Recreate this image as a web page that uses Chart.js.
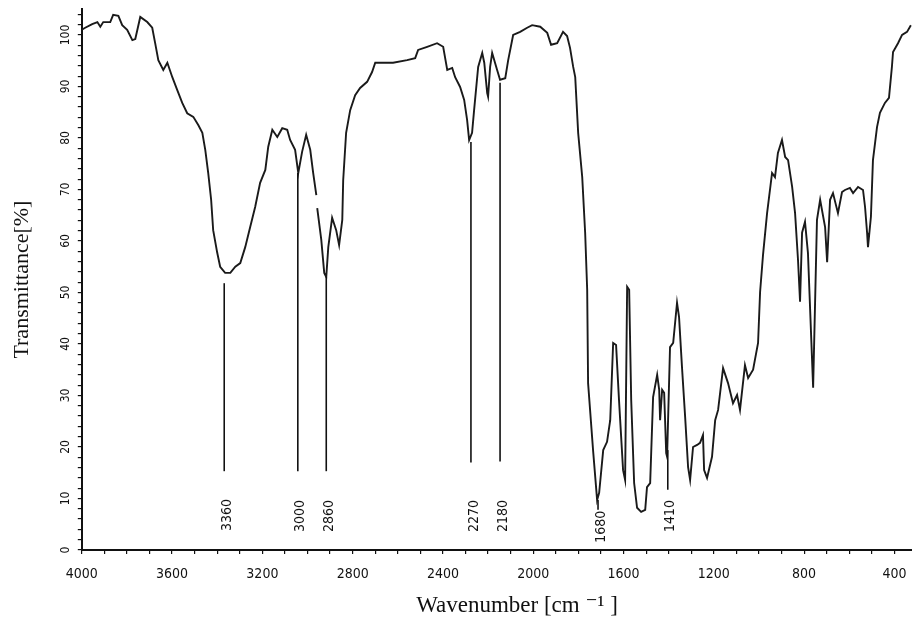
<!DOCTYPE html>
<html>
<head>
<meta charset="utf-8">
<script src="https://cdn.jsdelivr.net/npm/chart.js@4.4.1/dist/chart.umd.min.js"></script>
<style>
  html, body { margin: 0; padding: 0; background: #ffffff; }
  #wrap { width: 912px; height: 620px; position: relative; }
</style>
</head>
<body>
<div id="wrap"><canvas id="c"></canvas></div>
<script>
// ---- data ----
const wavenumber = [4000,3985,3954,3931,3918,3905,3874,3861,3838,3821,
  3799,3776,3763,3741,3710,3688,3675,3661,3639,3621,
  3599,3577,3555,3533,3506,3484,3466,3453,3440,3427,
  3418,3400,3387,3365,3342,3320,3298,3276,3254,3232,
  3210,3187,3174,3156,3134,3112,3090,3077,3055,3041,
  3024,3006,2988,2975,2961,2959,2957,2939,2926,2917,
  2908,2891,2873,2860,2846,2842,2829,2811,2789,2767,
  2736,2714,2700,2669,2621,2559,2523,2510,2470,2426,
  2399,2381,2359,2346,2324,2306,2293,2284,2271,2262,
  2244,2226,2217,2204,2200,2191,2182,2160,2147,2124,
  2111,2089,2058,2027,2005,1969,1938,1921,1894,1868,
  1850,1837,1823,1814,1801,1783,1770,1761,1757,1735,
  1717,1708,1690,1673,1659,1646,1633,1620,1602,1593,
  1584,1575,1566,1553,1540,1522,1504,1496,1482,1469,
  1451,1442,1438,1429,1420,1411,1407,1394,1380,1363,
  1354,1341,1327,1314,1305,1292,1274,1261,1248,1243,
  1230,1208,1194,1181,1159,1137,1115,1097,1084,1062,
  1048,1026,1004,995,982,964,942,929,916,898,
  884,871,853,840,827,818,809,796,783,760,
  743,729,707,698,685,672,650,632,619,597,
  583,561,539,530,521,517,504,495,477,464,
  442,424,411,406,384,366,344,327];

const transmittance = [101.0,101.4,102.1,102.5,101.6,102.5,102.5,103.9,103.7,101.9,
  101.0,99.0,99.2,103.5,102.5,101.4,98.4,95.1,93.2,94.6,
  91.8,89.3,86.8,84.8,84.1,82.5,81.0,77.7,73.2,68.0,
  62.1,57.7,55.0,53.8,53.8,55.0,55.7,58.8,62.7,66.6,
  71.3,73.8,78.3,81.6,80.2,81.9,81.6,79.6,77.7,73.2,
  77.3,80.6,77.7,73.2,68.9,null,66.4,60.2,53.8,53.0,
  58.8,64.5,62.1,59.2,64.1,71.8,81.0,85.4,88.3,89.7,
  90.9,92.8,94.6,94.6,94.6,95.1,95.5,97.1,97.7,98.4,
  97.7,93.2,93.6,91.8,89.9,87.4,83.5,79.6,81.0,85.4,
  93.8,96.5,94.6,88.7,88.0,93.8,96.5,93.2,91.3,91.6,
  95.1,100.0,100.6,101.4,101.9,101.6,100.4,98.1,98.4,100.6,
  99.8,97.5,93.8,91.8,81.0,72.4,61.6,50.5,32.4,19.4,
  9.7,11.1,19.4,21.0,25.2,40.2,39.8,29.1,15.5,13.6,
  51.1,50.5,29.1,13.0,8.2,7.4,7.8,12.2,13.0,29.7,
  34.0,31.1,25.2,31.1,30.5,18.8,18.1,39.4,40.2,48.0,
  45.2,35.5,25.8,16.1,13.6,20.0,20.4,20.8,22.3,15.5,
  14.0,18.1,25.2,27.2,35.3,32.4,28.5,30.1,27.2,35.9,
  33.4,35.0,40.2,50.1,57.3,65.4,73.2,72.4,77.1,79.6,
  76.3,75.7,70.5,65.4,56.3,48.2,61.6,63.7,57.7,31.5,
  64.1,68.0,62.7,55.9,68.0,69.3,65.4,69.5,69.9,70.3,
  69.3,70.5,69.9,66.6,61.6,58.8,64.7,75.7,82.1,84.9,
  86.8,87.8,93.8,96.7,98.4,100.0,100.6,101.9];

// peak annotations: text, position on the wavenumber axis, line span and label height (in %T)
const peakLabels  = ['3360','3000','2860','2270','2180','1680','1410'];
const peakPos     = [3369, 3043, 2917, 2276, 2147, 1713, 1404];
const peakTop     = [51.8, 73.2, 53.0, 79.2, 90.7, 9.7, 19.4];
const peakBottom  = [15.3, 15.3, 15.3, 17.0, 17.2, 7.8, 11.7];
const peakLabelY  = [6.8, 6.6, 6.6, 6.6, 6.6, 4.5, 6.6];

// axis tick labels
const xTickLabels = [4000, 3600, 3200, 2800, 2400, 2000, 1600, 1200, 800, 400];
const yTickLabels = [0, 10, 20, 30, 40, 50, 60, 70, 80, 90, 100];

const points = wavenumber.map((w, i) => ({ x: w, y: transmittance[i] }));

const sansCond = "'DejaVu Sans Condensed', 'Liberation Sans Narrow', 'DejaVu Sans', sans-serif";
const serif = "'Liberation Serif', 'DejaVu Serif', serif";

const peakPlugin = {
  id: 'peaks',
  afterDatasetsDraw(chart) {
    const { ctx, scales: { x, y } } = chart;
    ctx.save();
    ctx.strokeStyle = '#111';
    ctx.lineWidth = 1.6;
    ctx.fillStyle = '#111';
    ctx.font = '14px ' + sansCond;
    peakLabels.forEach((lab, i) => {
      const px = x.getPixelForValue(peakPos[i]);
      ctx.beginPath();
      ctx.moveTo(px, y.getPixelForValue(peakTop[i]));
      ctx.lineTo(px, y.getPixelForValue(peakBottom[i]));
      ctx.stroke();
      ctx.save();
      ctx.translate(px + 3, y.getPixelForValue(peakLabelY[i]));
      ctx.rotate(-Math.PI / 2);
      ctx.textAlign = 'center';
      ctx.textBaseline = 'middle';
      ctx.fillText(lab, 0, 0);
      ctx.restore();
    });
    ctx.restore();
  }
};

new Chart(document.getElementById('c'), {
  type: 'line',
  data: {
    datasets: [{
      data: points,
      borderColor: '#1a1a1a',
      borderWidth: 1.9,
      pointRadius: 0,
      tension: 0,
      spanGaps: false,
      fill: false
    }]
  },
  options: {
    responsive: true,
    maintainAspectRatio: false,
    animation: false,
    layout: { padding: { top: 9, right: 0, bottom: 0, left: 0 } },
    plugins: { legend: { display: false }, tooltip: { enabled: false } },
    scales: {
      x: {
        type: 'linear',
        reverse: true,
        min: 322,
        max: 4000,
        afterFit: (scale) => { scale.paddingRight = 0; scale.paddingLeft = 0; },
        grid: { drawOnChartArea: false, drawTicks: true, tickLength: 4, color: '#111', lineWidth: 1.2 },
        border: { display: true, color: '#111', width: 2 },
        ticks: {
          stepSize: 100,
          includeBounds: false,
          autoSkip: false,
          maxRotation: 0,
          minRotation: 0,
          padding: 13,
          color: '#111',
          font: { family: sansCond, size: 14, lineHeight: 1.0 },
          callback: (v) => xTickLabels.includes(v) ? String(v) : ''
        },
        title: {
          display: true,
          text: '       Wavenumber [cm \u207B\u00B9 ]',
          color: '#111',
          font: { family: serif, size: 23, lineHeight: 1.0 },
          padding: { top: 0, bottom: 3 }
        }
      },
      y: {
        type: 'linear',
        min: 0,
        max: 105,
        grid: { drawOnChartArea: false, drawTicks: true, tickLength: 4, color: '#111', lineWidth: 1.2 },
        border: { display: true, color: '#111', width: 2 },
        ticks: {
          stepSize: 2,
          includeBounds: false,
          autoSkip: false,
          minRotation: 90,
          maxRotation: 90,
          crossAlign: 'center',
          padding: 2,
          color: '#111',
          font: { family: sansCond, size: 12 },
          callback: (v) => yTickLabels.includes(v) ? String(v) : ''
        },
        title: {
          display: true,
          text: 'Transmittance[%]',
          color: '#111',
          font: { family: serif, size: 22 },
          padding: { top: 9, bottom: 24 }
        }
      }
    }
  },
  plugins: [peakPlugin]
});
</script>
</body>
</html>
